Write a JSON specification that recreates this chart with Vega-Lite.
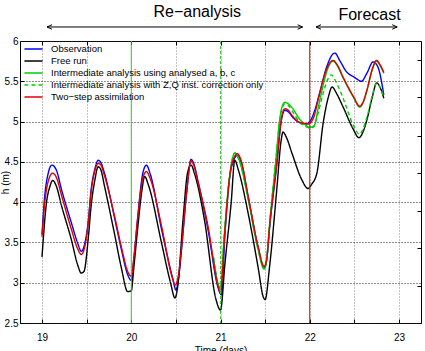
{
  "$schema": "https://vega.github.io/schema/vega-lite/v6.json",
  "width": 401,
  "height": 282,
  "autosize": "none",
  "padding": {"left": 20, "top": 41, "right": 4, "bottom": 28},
  "background": "white",
  "config": {
    "view": {"stroke": "black", "strokeWidth": 1},
    "font": "Liberation Sans",
    "axis": {
      "labelFont": "Liberation Sans", "labelFontSize": 10, "labelColor": "black",
      "titleFont": "Liberation Sans", "titleFontSize": 10, "titleFontWeight": "normal", "titleColor": "black",
      "domain": false, "tickColor": "black", "tickSize": -4, "tickWidth": 1
    },
    "legend": {
      "orient": "none", "legendX": 6, "legendY": 0.5, "title": null,
      "labelFont": "Liberation Sans", "labelFontSize": 9.5, "labelColor": "black",
      "symbolType": "M-1.35,0H1.35", "symbolSize": 180, "symbolStrokeWidth": 1.5,
      "rowPadding": 0, "labelOffset": 10, "padding": 0, "labelLimit": 400
    }
  },
  "resolve": {"axis": {"x": "independent", "y": "independent"}},
  "layer": [
    {
      "data": {"values": [
        {"s":"obs","t":19.00,"h":3.60},{"s":"obs","t":19.03,"h":4.07},{"s":"obs","t":19.07,"h":4.36},{"s":"obs","t":19.11,"h":4.46},{"s":"obs","t":19.16,"h":4.40},{"s":"obs","t":19.22,"h":4.15},{"s":"obs","t":19.33,"h":3.74},{"s":"obs","t":19.40,"h":3.49},{"s":"obs","t":19.44,"h":3.39},{"s":"obs","t":19.48,"h":3.49},{"s":"obs","t":19.52,"h":3.78},{"s":"obs","t":19.55,"h":4.15},{"s":"obs","t":19.59,"h":4.40},{"s":"obs","t":19.63,"h":4.52},{"s":"obs","t":19.66,"h":4.49},{"s":"obs","t":19.70,"h":4.36},{"s":"obs","t":19.81,"h":3.82},{"s":"obs","t":19.89,"h":3.41},{"s":"obs","t":19.96,"h":3.10},{"s":"obs","t":20.00,"h":3.03},{"s":"obs","t":20.03,"h":3.30},{"s":"obs","t":20.07,"h":3.78},{"s":"obs","t":20.13,"h":4.36},{"s":"obs","t":20.17,"h":4.46},{"s":"obs","t":20.21,"h":4.36},{"s":"obs","t":20.34,"h":3.66},{"s":"obs","t":20.47,"h":3.03},{"s":"obs","t":20.50,"h":2.91},{"s":"obs","t":20.53,"h":3.05},{"s":"obs","t":20.56,"h":3.37},{"s":"obs","t":20.62,"h":4.11},{"s":"obs","t":20.67,"h":4.53},{"s":"obs","t":20.70,"h":4.48},{"s":"obs","t":20.75,"h":4.25},{"s":"obs","t":20.86,"h":3.66},{"s":"obs","t":20.97,"h":2.95},{"s":"obs","t":21.01,"h":2.85},{"s":"obs","t":21.05,"h":3.60},{"s":"obs","t":21.12,"h":4.42},{"s":"obs","t":21.19,"h":4.58},{"s":"obs","t":21.23,"h":4.50},{"s":"obs","t":21.31,"h":4.07},{"s":"obs","t":21.42,"h":3.45},{"s":"obs","t":21.49,"h":3.18},{"s":"obs","t":21.52,"h":3.30},{"s":"obs","t":21.55,"h":3.68},{"s":"obs","t":21.63,"h":4.46},{"s":"obs","t":21.68,"h":5.00},{"s":"obs","t":21.72,"h":5.14},{"s":"obs","t":21.76,"h":5.12},{"s":"obs","t":21.82,"h":5.04},{"s":"obs","t":21.90,"h":4.98},{"s":"obs","t":21.95,"h":4.97},{"s":"obs","t":22.00,"h":5.00},{"s":"obs","t":22.05,"h":5.12},{"s":"obs","t":22.11,"h":5.35},{"s":"obs","t":22.19,"h":5.68},{"s":"obs","t":22.28,"h":5.85},{"s":"obs","t":22.34,"h":5.75},{"s":"obs","t":22.41,"h":5.62},{"s":"obs","t":22.50,"h":5.55},{"s":"obs","t":22.58,"h":5.50},{"s":"obs","t":22.64,"h":5.60},{"s":"obs","t":22.71,"h":5.74},{"s":"obs","t":22.74,"h":5.72},{"s":"obs","t":22.77,"h":5.66},{"s":"obs","t":22.83,"h":5.33},
        {"s":"free","t":19.00,"h":3.32},{"s":"free","t":19.05,"h":3.99},{"s":"free","t":19.09,"h":4.20},{"s":"free","t":19.12,"h":4.27},{"s":"free","t":19.16,"h":4.20},{"s":"free","t":19.22,"h":3.95},{"s":"free","t":19.33,"h":3.53},{"s":"free","t":19.40,"h":3.22},{"s":"free","t":19.44,"h":3.12},{"s":"free","t":19.47,"h":3.14},{"s":"free","t":19.52,"h":3.57},{"s":"free","t":19.55,"h":3.95},{"s":"free","t":19.59,"h":4.26},{"s":"free","t":19.63,"h":4.44},{"s":"free","t":19.66,"h":4.40},{"s":"free","t":19.70,"h":4.20},{"s":"free","t":19.81,"h":3.62},{"s":"free","t":19.89,"h":3.18},{"s":"free","t":19.96,"h":2.89},{"s":"free","t":20.00,"h":2.90},{"s":"free","t":20.03,"h":3.20},{"s":"free","t":20.07,"h":3.65},{"s":"free","t":20.12,"h":4.15},{"s":"free","t":20.15,"h":4.32},{"s":"free","t":20.19,"h":4.22},{"s":"free","t":20.34,"h":3.49},{"s":"free","t":20.44,"h":3.00},{"s":"free","t":20.49,"h":2.81},{"s":"free","t":20.52,"h":2.95},{"s":"free","t":20.58,"h":3.78},{"s":"free","t":20.63,"h":4.36},{"s":"free","t":20.67,"h":4.46},{"s":"free","t":20.71,"h":4.35},{"s":"free","t":20.82,"h":3.78},{"s":"free","t":20.95,"h":2.79},{"s":"free","t":21.00,"h":2.66},{"s":"free","t":21.05,"h":3.24},{"s":"free","t":21.12,"h":4.00},{"s":"free","t":21.16,"h":4.52},{"s":"free","t":21.20,"h":4.40},{"s":"free","t":21.31,"h":3.86},{"s":"free","t":21.42,"h":3.20},{"s":"free","t":21.48,"h":2.82},{"s":"free","t":21.50,"h":2.79},{"s":"free","t":21.55,"h":3.20},{"s":"free","t":21.63,"h":4.15},{"s":"free","t":21.68,"h":4.77},{"s":"free","t":21.70,"h":4.87},{"s":"free","t":21.74,"h":4.80},{"s":"free","t":21.80,"h":4.61},{"s":"free","t":21.91,"h":4.28},{"s":"free","t":21.98,"h":4.17},{"s":"free","t":22.02,"h":4.22},{"s":"free","t":22.08,"h":4.36},{"s":"free","t":22.15,"h":4.98},{"s":"free","t":22.21,"h":5.31},{"s":"free","t":22.25,"h":5.43},{"s":"free","t":22.30,"h":5.35},{"s":"free","t":22.37,"h":5.19},{"s":"free","t":22.49,"h":4.90},{"s":"free","t":22.55,"h":4.80},{"s":"free","t":22.60,"h":4.88},{"s":"free","t":22.64,"h":5.02},{"s":"free","t":22.70,"h":5.30},{"s":"free","t":22.75,"h":5.48},{"s":"free","t":22.79,"h":5.42},{"s":"free","t":22.83,"h":5.29},
        {"s":"ia","t":20.92,"h":3.32},{"s":"ia","t":20.97,"h":3.00},{"s":"ia","t":21.00,"h":2.92},{"s":"ia","t":21.04,"h":3.55},{"s":"ia","t":21.10,"h":4.30},{"s":"ia","t":21.16,"h":4.61},{"s":"ia","t":21.21,"h":4.52},{"s":"ia","t":21.31,"h":4.04},{"s":"ia","t":21.42,"h":3.42},{"s":"ia","t":21.49,"h":3.17},{"s":"ia","t":21.52,"h":3.32},{"s":"ia","t":21.55,"h":3.72},{"s":"ia","t":21.62,"h":4.52},{"s":"ia","t":21.67,"h":5.08},{"s":"ia","t":21.72,"h":5.24},{"s":"ia","t":21.76,"h":5.22},{"s":"ia","t":21.81,"h":5.16},{"s":"ia","t":21.88,"h":5.04},{"s":"ia","t":21.95,"h":4.96},{"s":"ia","t":22.00,"h":4.93},{"s":"ia","t":22.05,"h":4.95},{"s":"ia","t":22.10,"h":5.20},{"s":"ia","t":22.15,"h":5.45},{"s":"ia","t":22.21,"h":5.68},{"s":"ia","t":22.26,"h":5.75},{"s":"ia","t":22.31,"h":5.69},{"s":"ia","t":22.37,"h":5.55},{"s":"ia","t":22.49,"h":5.30},{"s":"ia","t":22.56,"h":5.18},{"s":"ia","t":22.60,"h":5.24},{"s":"ia","t":22.64,"h":5.38},{"s":"ia","t":22.70,"h":5.64},{"s":"ia","t":22.75,"h":5.75},{"s":"ia","t":22.78,"h":5.71},{"s":"ia","t":22.83,"h":5.60},
        {"s":"iz","t":20.92,"h":3.32},{"s":"iz","t":20.97,"h":3.00},{"s":"iz","t":21.00,"h":2.92},{"s":"iz","t":21.04,"h":3.55},{"s":"iz","t":21.10,"h":4.30},{"s":"iz","t":21.16,"h":4.61},{"s":"iz","t":21.21,"h":4.52},{"s":"iz","t":21.31,"h":4.04},{"s":"iz","t":21.42,"h":3.42},{"s":"iz","t":21.49,"h":3.17},{"s":"iz","t":21.52,"h":3.32},{"s":"iz","t":21.55,"h":3.72},{"s":"iz","t":21.62,"h":4.52},{"s":"iz","t":21.67,"h":5.06},{"s":"iz","t":21.72,"h":5.22},{"s":"iz","t":21.76,"h":5.20},{"s":"iz","t":21.81,"h":5.12},{"s":"iz","t":21.88,"h":5.00},{"s":"iz","t":21.95,"h":4.94},{"s":"iz","t":22.00,"h":4.92},{"s":"iz","t":22.04,"h":4.93},{"s":"iz","t":22.08,"h":5.05},{"s":"iz","t":22.15,"h":5.35},{"s":"iz","t":22.20,"h":5.52},{"s":"iz","t":22.24,"h":5.58},{"s":"iz","t":22.30,"h":5.48},{"s":"iz","t":22.37,"h":5.30},{"s":"iz","t":22.49,"h":4.95},{"s":"iz","t":22.56,"h":4.84},{"s":"iz","t":22.60,"h":4.92},{"s":"iz","t":22.64,"h":5.05},{"s":"iz","t":22.70,"h":5.32},{"s":"iz","t":22.75,"h":5.48},{"s":"iz","t":22.79,"h":5.42},{"s":"iz","t":22.83,"h":5.30},
        {"s":"two","t":19.00,"h":3.57},{"s":"two","t":19.03,"h":3.98},{"s":"two","t":19.07,"h":4.26},{"s":"two","t":19.12,"h":4.36},{"s":"two","t":19.16,"h":4.31},{"s":"two","t":19.22,"h":4.08},{"s":"two","t":19.33,"h":3.66},{"s":"two","t":19.40,"h":3.42},{"s":"two","t":19.44,"h":3.35},{"s":"two","t":19.48,"h":3.45},{"s":"two","t":19.52,"h":3.76},{"s":"two","t":19.55,"h":4.12},{"s":"two","t":19.59,"h":4.38},{"s":"two","t":19.63,"h":4.48},{"s":"two","t":19.66,"h":4.46},{"s":"two","t":19.70,"h":4.33},{"s":"two","t":19.81,"h":3.84},{"s":"two","t":19.89,"h":3.44},{"s":"two","t":19.96,"h":3.14},{"s":"two","t":20.00,"h":3.08},{"s":"two","t":20.03,"h":3.32},{"s":"two","t":20.07,"h":3.78},{"s":"two","t":20.13,"h":4.30},{"s":"two","t":20.17,"h":4.38},{"s":"two","t":20.21,"h":4.30},{"s":"two","t":20.34,"h":3.70},{"s":"two","t":20.46,"h":3.06},{"s":"two","t":20.49,"h":2.97},{"s":"two","t":20.53,"h":3.10},{"s":"two","t":20.56,"h":3.40},{"s":"two","t":20.62,"h":4.12},{"s":"two","t":20.67,"h":4.51},{"s":"two","t":20.70,"h":4.46},{"s":"two","t":20.75,"h":4.24},{"s":"two","t":20.86,"h":3.70},{"s":"two","t":20.97,"h":2.97},{"s":"two","t":21.00,"h":2.87},{"s":"two","t":21.05,"h":3.66},{"s":"two","t":21.12,"h":4.44},{"s":"two","t":21.19,"h":4.60},{"s":"two","t":21.23,"h":4.52},{"s":"two","t":21.31,"h":4.07},{"s":"two","t":21.42,"h":3.45},{"s":"two","t":21.49,"h":3.20},{"s":"two","t":21.52,"h":3.32},{"s":"two","t":21.55,"h":3.70},{"s":"two","t":21.63,"h":4.48},{"s":"two","t":21.68,"h":5.02},{"s":"two","t":21.72,"h":5.16},{"s":"two","t":21.76,"h":5.14},{"s":"two","t":21.80,"h":5.08},{"s":"two","t":21.87,"h":5.00},{"s":"two","t":21.93,"h":4.98},{"s":"two","t":21.98,"h":4.97},{"s":"two","t":22.04,"h":5.04},{"s":"two","t":22.10,"h":5.30},{"s":"two","t":22.15,"h":5.52},{"s":"two","t":22.21,"h":5.70},{"s":"two","t":22.26,"h":5.76},{"s":"two","t":22.31,"h":5.70},{"s":"two","t":22.37,"h":5.56},{"s":"two","t":22.49,"h":5.31},{"s":"two","t":22.56,"h":5.19},{"s":"two","t":22.60,"h":5.25},{"s":"two","t":22.64,"h":5.39},{"s":"two","t":22.70,"h":5.65},{"s":"two","t":22.75,"h":5.76},{"s":"two","t":22.78,"h":5.72},{"s":"two","t":22.83,"h":5.61}
      ]},
      "mark": {"type": "line", "strokeWidth": 1.4, "interpolate": "monotone"},
      "encoding": {
        "x": {"field": "t", "type": "quantitative", "title": "Time (days)",
          "scale": {"domain": [18.7535, 23.2465], "nice": false, "zero": false},
          "axis": {"orient": "bottom", "values": [19,19.5,20,20.5,21,21.5,22,22.5,23], "format": "~g",
            "labelExpr": "datum.value % 1 === 0 ? datum.label : ''",
            "grid": true, "gridColor": "#888888", "gridDash": [1,2], "gridWidth": 1,
            "labelPadding": 13, "titleY": 22, "titleBaseline": "top"}},
        "y": {"field": "h", "type": "quantitative", "title": "h (m)",
          "scale": {"domain": [2.5, 6], "nice": false, "zero": false},
          "axis": {"orient": "left", "values": [2.5,3,3.5,4,4.5,5,5.5,6], "format": "~g",
            "grid": true, "gridColor": "#222222", "gridDash": [1,2], "gridWidth": 1,
            "labelPadding": 6, "titleX": -15, "titleBaseline": "middle"}},
        "color": {"field": "s", "type": "nominal",
          "scale": {"domain": ["obs","free","ia","iz","two"], "range": ["#0000ff","#000000","#00cc00","#00cc00","#e00000"]},
          "legend": {"labelExpr": "datum.label == 'obs' ? 'Observation' : datum.label == 'free' ? 'Free run' : datum.label == 'ia' ? 'Intermediate analysis using analysed a, b, c' : datum.label == 'iz' ? 'Intermediate analysis with Z,Q inst. correction only' : 'Two−step assimilation'"}},
        "strokeDash": {"field": "s", "type": "nominal",
          "scale": {"domain": ["obs","free","ia","iz","two"], "range": [[1,0],[1,0],[1,0],[4,3],[1,0]]},
          "legend": {"labelExpr": "datum.label == 'obs' ? 'Observation' : datum.label == 'free' ? 'Free run' : datum.label == 'ia' ? 'Intermediate analysis using analysed a, b, c' : datum.label == 'iz' ? 'Intermediate analysis with Z,Q inst. correction only' : 'Two−step assimilation'"}}
      }
    },
    {
      "data": {"values": [{"t": 20}]},
      "mark": {"type": "rule", "color": "#33cc33", "strokeWidth": 1},
      "encoding": {"x": {"field": "t", "type": "quantitative", "title": "Time (days)",
        "axis": {"orient": "top", "values": [19,19.5,20,20.5,21,21.5,22,22.5,23], "labels": false, "grid": false, "title": null}}}
    },
    {
      "data": {"values": [{"t": 21}]},
      "mark": {"type": "rule", "color": "#33cc33", "strokeWidth": 1, "strokeDash": [3,2]},
      "encoding": {"x": {"field": "t", "type": "quantitative", "title": "Time (days)", "axis": null}}
    },
    {
      "data": {"values": [{"t": 22}]},
      "mark": {"type": "rule", "color": "#dd0000", "strokeWidth": 1},
      "encoding": {"x": {"field": "t", "type": "quantitative", "title": "Time (days)", "axis": null}}
    },
    {
      "data": {"values": [{"t": 20.74, "h": 6.298, "label": "Re−analysis"}, {"t": 22.67, "h": 6.26, "label": "Forecast"}]},
      "mark": {"type": "text", "fontSize": 16, "font": "Liberation Sans", "align": "center", "baseline": "alphabetic", "color": "black"},
      "encoding": {
        "x": {"field": "t", "type": "quantitative", "title": "Time (days)", "axis": null},
        "y": {"field": "h", "type": "quantitative", "title": "h (m)",
          "axis": {"orient": "right", "values": [2.5,2.959,3.431,3.89,4.362,4.821,5.305,5.764], "labels": false, "grid": false, "title": null}},
        "text": {"field": "label"}
      }
    },
    {
      "data": {"values": [{"t": 19.056, "t2": 21.92, "h": 6.174}, {"t": 22.07, "t2": 22.98, "h": 6.174}]},
      "mark": {"type": "rule", "color": "black", "strokeWidth": 1},
      "encoding": {
        "x": {"field": "t", "type": "quantitative", "title": "Time (days)", "axis": null},
        "x2": {"field": "t2", "title": "Time (days)"},
        "y": {"field": "h", "type": "quantitative", "title": "h (m)", "axis": null}
      }
    },
    {
      "data": {"values": [{"t": 19.056, "h": 6.174}, {"t": 22.07, "h": 6.174}]},
      "mark": {"type": "point", "shape": "M1,-0.45L0,0L1,0.45", "size": 100, "filled": false, "stroke": "black", "strokeWidth": 1, "opacity": 1},
      "encoding": {
        "x": {"field": "t", "type": "quantitative", "title": "Time (days)", "axis": null},
        "y": {"field": "h", "type": "quantitative", "title": "h (m)", "axis": null}
      }
    },
    {
      "data": {"values": [{"t": 21.92, "h": 6.174}, {"t": 22.98, "h": 6.174}]},
      "mark": {"type": "point", "shape": "M-1,-0.45L0,0L-1,0.45", "size": 100, "filled": false, "stroke": "black", "strokeWidth": 1, "opacity": 1},
      "encoding": {
        "x": {"field": "t", "type": "quantitative", "title": "Time (days)", "axis": null},
        "y": {"field": "h", "type": "quantitative", "title": "h (m)", "axis": null}
      }
    }
  ]
}
